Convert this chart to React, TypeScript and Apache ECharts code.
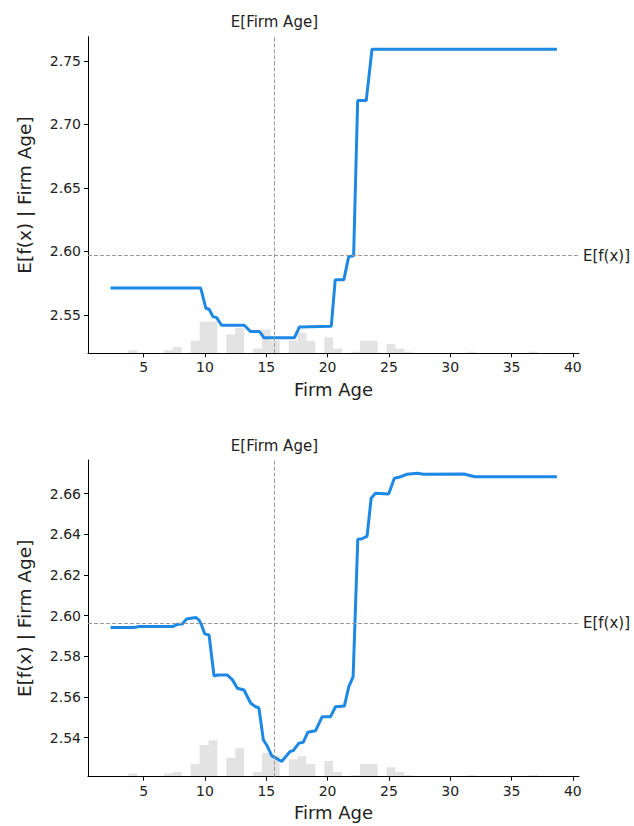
import React, { useEffect, useRef } from "react";
import * as echarts from "echarts";

// ---------- data ----------
const xTicks = [5, 10, 15, 20, 25, 30, 35, 40];
const topYTicks = [2.55, 2.6, 2.65, 2.7, 2.75];
const botYTicks = [2.54, 2.56, 2.58, 2.6, 2.62, 2.64, 2.66];

const meanFirmAge = 15.66;
const topBaseValue = 2.5966;
const botBaseValue = 2.5962;

// partial dependence curve, top panel
const topX = [2.3, 9.65, 10.07, 10.34, 10.65, 10.95, 11.35, 13.2, 13.72, 14.45, 14.8, 17.3, 17.7, 20.3, 20.62, 21.32, 21.72, 22.12, 22.45, 23.15, 23.62, 38.7];
const topY = [2.5712, 2.5712, 2.5553, 2.5545, 2.5487, 2.5479, 2.5419, 2.5419, 2.5369, 2.5369, 2.5321, 2.5321, 2.5405, 2.5411, 2.5776, 2.5776, 2.5959, 2.5965, 2.7187, 2.7187, 2.7592, 2.7592];

// partial dependence curve, bottom panel
const botX = [2.3, 4.2, 4.65, 7.35, 7.75, 8.15, 8.5, 9.25, 9.52, 9.72, 9.98, 10.33, 10.74, 11.02, 11.83, 12.24, 12.64, 13.18, 13.73, 14.13, 14.4, 14.76, 15.03, 15.45, 15.8, 16.25, 16.92, 17.2, 17.66, 18.01, 18.39, 19.02, 19.56, 20.24, 20.64, 21.37, 21.73, 22.08, 22.46, 22.81, 23.22, 23.55, 23.9, 24.98, 25.44, 25.8, 26.48, 27.29, 27.83, 31.1, 32.0, 38.7];
const botY = [2.5941, 2.5942, 2.5946, 2.5946, 2.5957, 2.5959, 2.5983, 2.5991, 2.5978, 2.5954, 2.591, 2.5905, 2.5703, 2.5708, 2.5708, 2.5684, 2.5643, 2.5634, 2.5569, 2.5552, 2.5546, 2.5389, 2.5364, 2.531, 2.5299, 2.5283, 2.5331, 2.5336, 2.5373, 2.5377, 2.5427, 2.5434, 2.5503, 2.5503, 2.5552, 2.5556, 2.5651, 2.57, 2.6375, 2.6378, 2.6391, 2.6577, 2.6601, 2.6598, 2.6675, 2.668, 2.6695, 2.67, 2.6695, 2.6696, 2.6683, 2.6683];

// histogram of Firm Age (left bin edges of non-empty bins, and counts)
const histBinWidth = 0.726;
const histBinLeft = [3.752, 6.656, 7.382, 8.834, 9.56, 10.286, 11.738, 12.464, 13.916, 14.642, 15.368, 16.82, 17.546, 18.272, 19.724, 20.45, 21.902, 22.628, 23.354, 24.806, 25.532, 26.258, 31.34, 36.422];
const topHistCounts = [2, 2, 4, 8, 20, 20, 12, 16, 3, 15, 8, 8, 13, 8, 10, 3, 1, 8, 8, 6, 3, 1, 1, 1];
const botHistCounts = [2, 2, 3, 8, 20, 23, 12, 18, 3, 15, 13, 11, 13, 8, 10, 3, 1, 8, 8, 6, 3, 1, 1, 1];
const histScaleMax = 200;

const X_MIN = 0.46;
const X_MAX = 40.5;

const FONT = "DejaVu Sans";
const TEXT = "#222";

function App() {
  const ref = useRef<HTMLDivElement>(null);

  useEffect(() => {
    if (!ref.current) return;
    const chart = echarts.init(ref.current, null, { renderer: "svg" });

    const mainX = (gridIndex: number) => ({
      type: "value",
      gridIndex,
      min: X_MIN,
      max: X_MAX,
      position: "bottom",
      name: "Firm Age",
      nameLocation: "middle",
      nameGap: 27,
      nameTextStyle: { fontSize: 18, color: TEXT, fontFamily: FONT },
      axisLine: { show: true, onZero: false, lineStyle: { color: "#000", width: 1 } },
      axisTick: { show: true, length: 4, customValues: xTicks, lineStyle: { color: "#000" } },
      axisLabel: { customValues: xTicks, fontSize: 14, color: TEXT, margin: 7, fontFamily: FONT },
      splitLine: { show: false },
    });
    const labelX = (gridIndex: number) => ({
      type: "value",
      gridIndex,
      min: X_MIN,
      max: X_MAX,
      position: "top",
      axisLine: { show: false },
      axisTick: { show: false },
      axisLabel: {
        customValues: [meanFirmAge],
        formatter: () => "E[Firm Age]",
        fontSize: 15,
        color: TEXT,
        margin: 7,
        fontFamily: FONT,
      },
      splitLine: { show: false },
    });
    const mainY = (gridIndex: number, min: number, max: number, ticks: number[]) => ({
      type: "value",
      gridIndex,
      min,
      max,
      position: "left",
      name: "E[f(x) | Firm Age]",
      nameLocation: "middle",
      nameRotate: 90,
      nameGap: 54,
      nameTextStyle: { fontSize: 18.5, color: TEXT, fontFamily: FONT },
      axisLine: { show: true, onZero: false, lineStyle: { color: "#000", width: 1 } },
      axisTick: { show: true, length: 4, customValues: ticks, lineStyle: { color: "#000" } },
      axisLabel: {
        customValues: ticks,
        formatter: (v: number) => v.toFixed(2),
        fontSize: 14,
        color: TEXT,
        margin: 7,
        fontFamily: FONT,
      },
      splitLine: { show: false },
    });
    const labelY = (gridIndex: number, min: number, max: number, base: number) => ({
      type: "value",
      gridIndex,
      min,
      max,
      position: "right",
      axisLine: { show: false, onZero: false },
      axisTick: { show: false },
      axisLabel: {
        customValues: [base],
        formatter: () => "E[f(x)]",
        fontSize: 15,
        color: TEXT,
        margin: 4,
        fontFamily: FONT,
      },
      splitLine: { show: false },
    });
    const histY = (gridIndex: number) => ({
      type: "value",
      gridIndex,
      min: 0,
      max: histScaleMax,
      position: "right",
      show: false,
      splitLine: { show: false },
    });

    const histSeries = (xi: number, yi: number, counts: number[]) => ({
      type: "custom",
      xAxisIndex: xi,
      yAxisIndex: yi,
      z: 1,
      silent: true,
      encode: { x: [0, 1], y: 2 },
      data: histBinLeft.map((l, i) => [l, l + histBinWidth, counts[i]]),
      renderItem: (_p: any, api: any) => {
        const p0 = api.coord([api.value(0), 0]);
        const p1 = api.coord([api.value(1), api.value(2)]);
        return {
          type: "rect",
          shape: { x: p0[0], y: p1[1], width: p1[0] - p0[0], height: p0[1] - p1[1] },
          style: { fill: "rgba(0,0,0,0.11)" },
        };
      },
    });

    const lineSeries = (xi: number, yi: number, xs: number[], ys: number[], base: number) => ({
      type: "line",
      xAxisIndex: xi,
      yAxisIndex: yi,
      z: 3,
      showSymbol: false,
      symbol: "none",
      lineStyle: { color: "#1E88E5", width: 3 },
      data: xs.map((x, i) => [x, ys[i]]),
      markLine: {
        silent: true,
        precision: 6,
        symbol: ["none", "none"],
        label: { show: false },
        lineStyle: { type: [4, 2], color: "#999999", width: 1 },
        data: [{ yAxis: base }, { xAxis: meanFirmAge }],
      },
    });

    const option: any = {
      animation: false,
      backgroundColor: "#ffffff",
      textStyle: { fontFamily: FONT },
      grid: [
        { left: 88, top: 36.7, width: 491, height: 316.6 },
        { left: 88, top: 460, width: 491, height: 316.7 },
      ],
      xAxis: [mainX(0), labelX(0), mainX(1), labelX(1)],
      yAxis: [
        mainY(0, 2.5198, 2.769, topYTicks),
        labelY(0, 2.5198, 2.769, topBaseValue),
        histY(0),
        mainY(1, 2.5208, 2.6765, botYTicks),
        labelY(1, 2.5208, 2.6765, botBaseValue),
        histY(1),
      ],
      series: [
        histSeries(0, 2, topHistCounts),
        lineSeries(0, 0, topX, topY, topBaseValue),
        histSeries(2, 5, botHistCounts),
        lineSeries(2, 3, botX, botY, botBaseValue),
      ],
    };
    chart.setOption(option);
    return () => chart.dispose();
  }, []);

  return (
    <div
      ref={ref}
      style={{ position: "fixed", left: 0, top: 0, width: 634, height: 826, background: "#fff" }}
    />
  );
}

export default App;
